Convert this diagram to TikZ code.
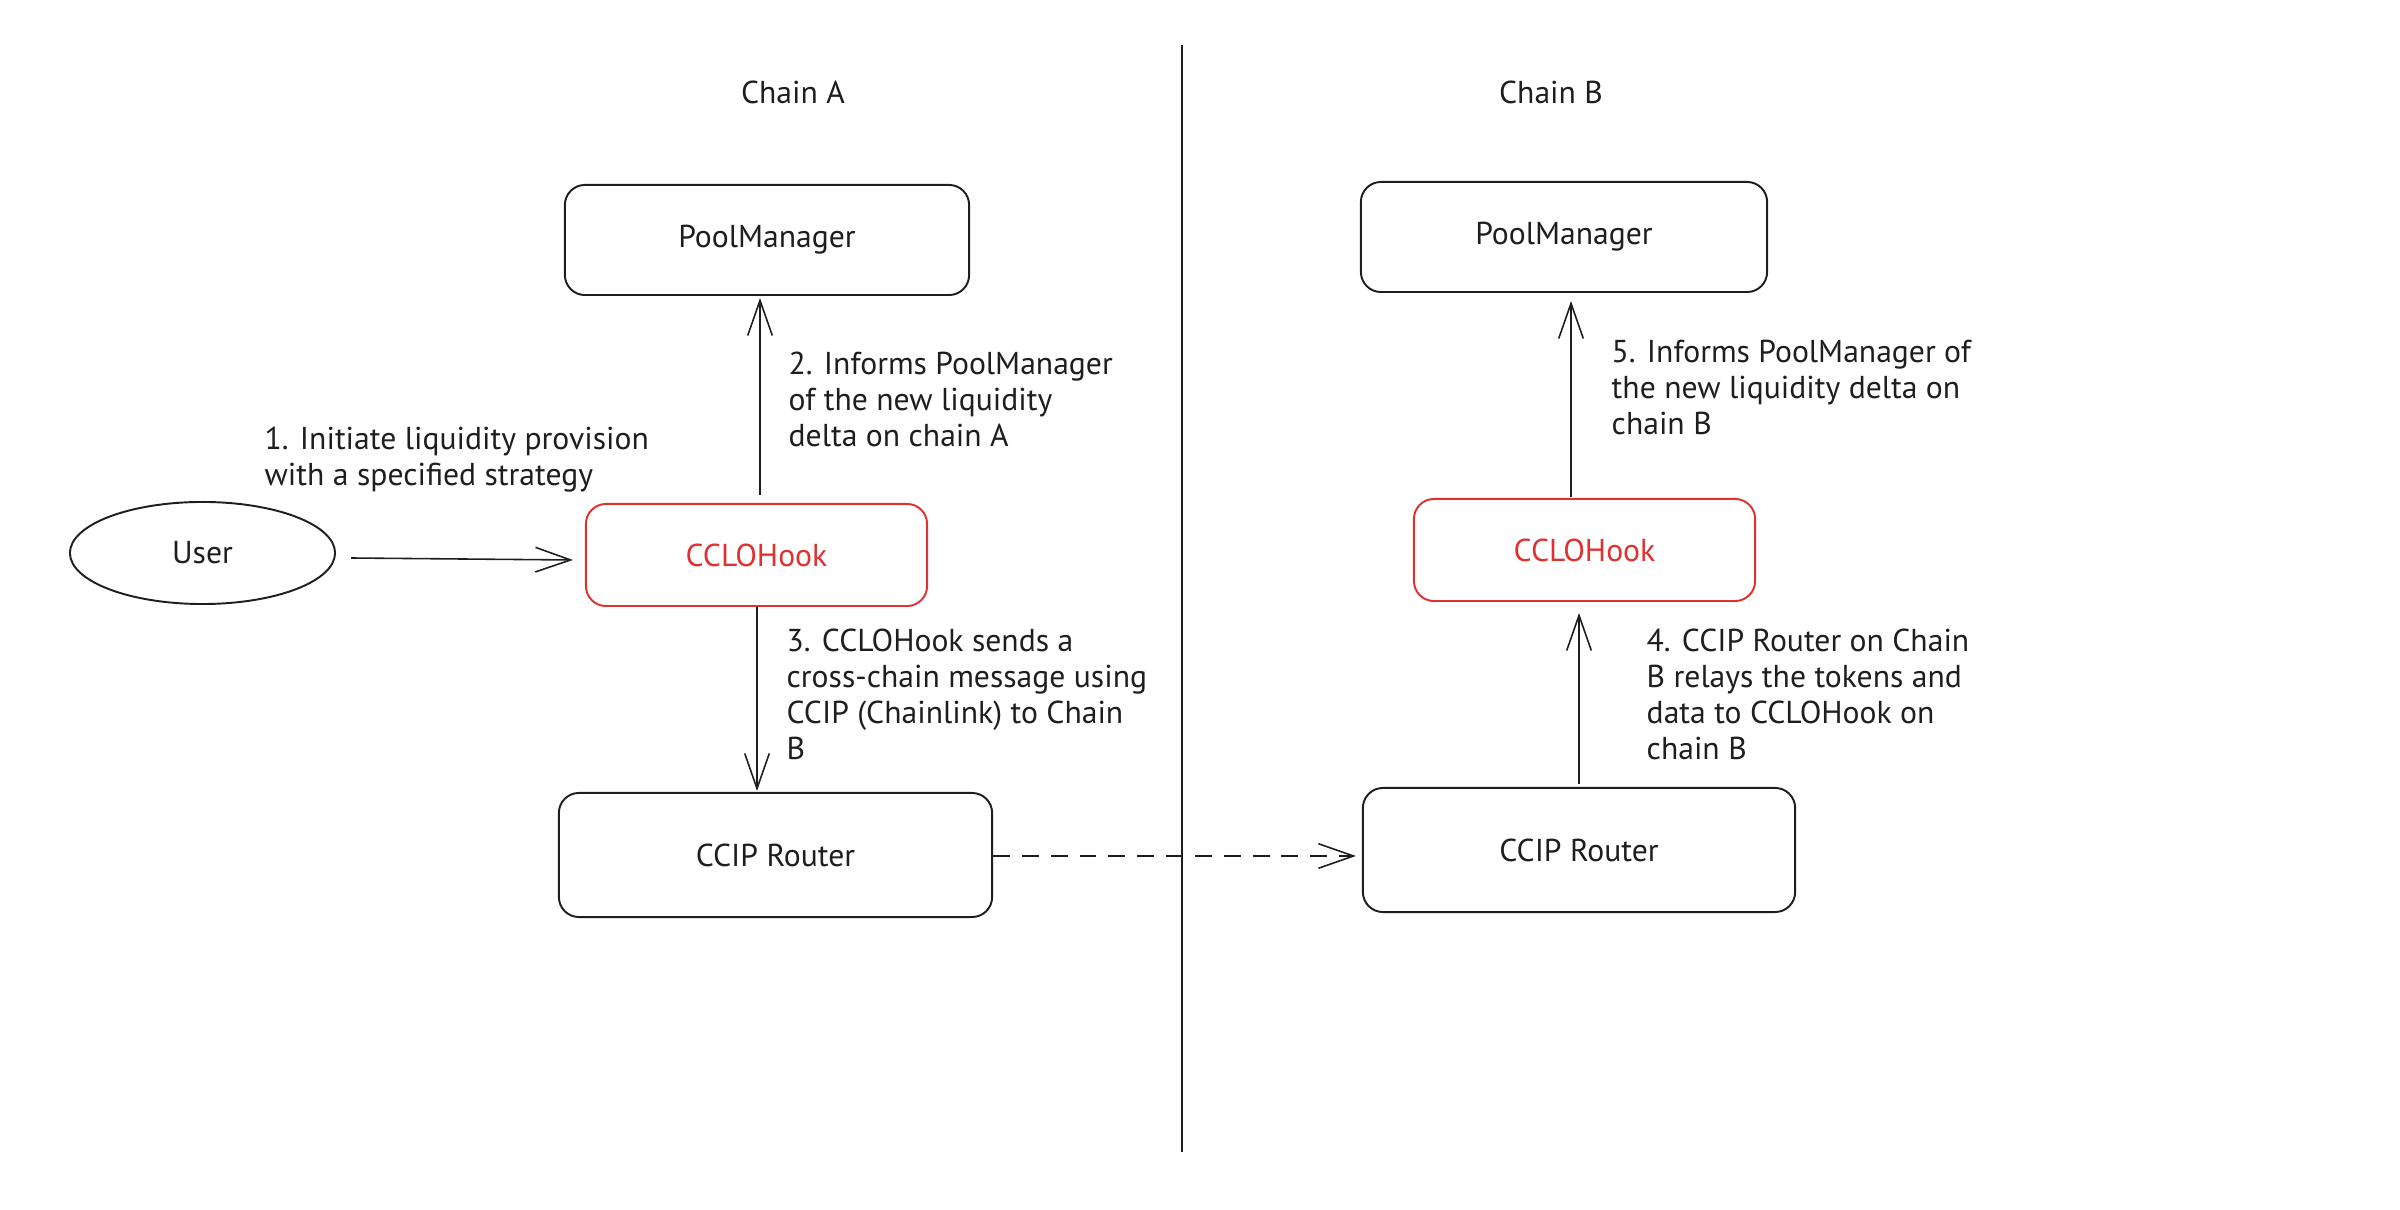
\documentclass[tikz,border=0pt]{standalone}
\usepackage{fontspec}
\setmainfont{PT Sans}
\usetikzlibrary{arrows.meta,shapes.geometric,calc}
\definecolor{ink}{HTML}{1E1E1E}
\definecolor{exred}{HTML}{E03131}
\begin{document}
\begin{tikzpicture}[x=0.01cm,y=-0.01cm,
  every node/.style={font=\fontsize{9pt}{10.24pt}\selectfont, text=ink},
  box/.style={draw=ink, line width=0.55pt, rounded corners=0.2cm, inner sep=0pt},
  hookbox/.style={box, draw=exred, text=exred},
  lbl/.style={align=left, anchor=north west, inner sep=0pt},
  flow/.style={draw=ink, line width=0.45pt, -{Straight Barb[length=10pt,width=7pt]}},
]
\useasboundingbox (0,0) rectangle (2400,1210);

% divider
\coordinate (divtop) at (1182,45);
\coordinate (divbot) at (1182,1152);
\draw[ink, line width=0.6pt] (divtop) -- (divbot);

% titles
\node (chainA) at (793,92) {Chain A};
\node (chainB) at (1551,92) {Chain B};

% nodes
\node[box, minimum width=4.04cm, minimum height=1.10cm] (pmA) at (767,240) {PoolManager};
\node[box, minimum width=4.06cm, minimum height=1.10cm] (pmB) at (1564,237) {PoolManager};
\node[hookbox, minimum width=3.41cm, minimum height=1.02cm] (hookA) at (756.5,555) {CCLOHook};
\node[hookbox, minimum width=3.41cm, minimum height=1.02cm] (hookB) at (1584.5,550) {CCLOHook};
\node[box, minimum width=4.33cm, minimum height=1.24cm] (routerA) at (775.5,855) {CCIP Router};
\node[box, minimum width=4.32cm, minimum height=1.24cm] (routerB) at (1579,850) {CCIP Router};
\node[draw=ink, line width=0.55pt, ellipse, inner sep=0pt, minimum width=2.65cm, minimum height=1.02cm] (user) at (202.5,553) {User};

% connector end points
\coordinate (a1s) at ($(user.east)+(15,5)$);
\coordinate (a1e) at ($(hookA.west)+(-12,5)$);
\coordinate (a2s) at ($(hookA.north)+(3.5,-8)$);
\coordinate (a2e) at ($(pmA.south)+(-7,2)$);
\coordinate (a3s) at ($(hookA.south)+(0.5,0)$);
\coordinate (a3e) at ($(routerA.north)+(-18.5,-1)$);
\coordinate (a4s) at ($(routerA.east)+(0,1)$);
\coordinate (a4e) at ($(routerB.west)+(-6,6)$);
\coordinate (a5s) at ($(routerB.north)+(0,-3)$);
\coordinate (a5e) at ($(hookB.south)+(-5.5,11)$);
\coordinate (a6s) at ($(hookB.north)+(-13.5,-1)$);
\coordinate (a6e) at ($(pmB.south)+(7,8)$);

% connectors
\draw[flow] (a1s) -- (a1e);
\draw[flow] (a2s) -- (a2e);
\draw[flow] (a3s) -- (a3e);
\draw[flow, dash pattern=on 4.8pt off 3.4pt] (a4s) -- (a4e);
\draw[flow] (a5s) -- (a5e);
\draw[flow] (a6s) -- (a6e);

% labels
\node[lbl] (l1) at (264,426) {1. Initiate liquidity provision\\with a specified strategy};
\node[lbl] (l2) at (788,351) {2. Informs PoolManager\\of the new liquidity\\delta on chain A};
\node[lbl] (l3) at (786,628) {3. CCLOHook sends a\\cross-chain message using\\CCIP (Chainlink) to Chain\\B};
\node[lbl] (l4) at (1646,628) {4. CCIP Router on Chain\\B relays the tokens and\\data to CCLOHook on\\chain B};
\node[lbl] (l5) at (1611,339) {5. Informs PoolManager of\\the new liquidity delta on\\chain B};
\end{tikzpicture}
\end{document}
